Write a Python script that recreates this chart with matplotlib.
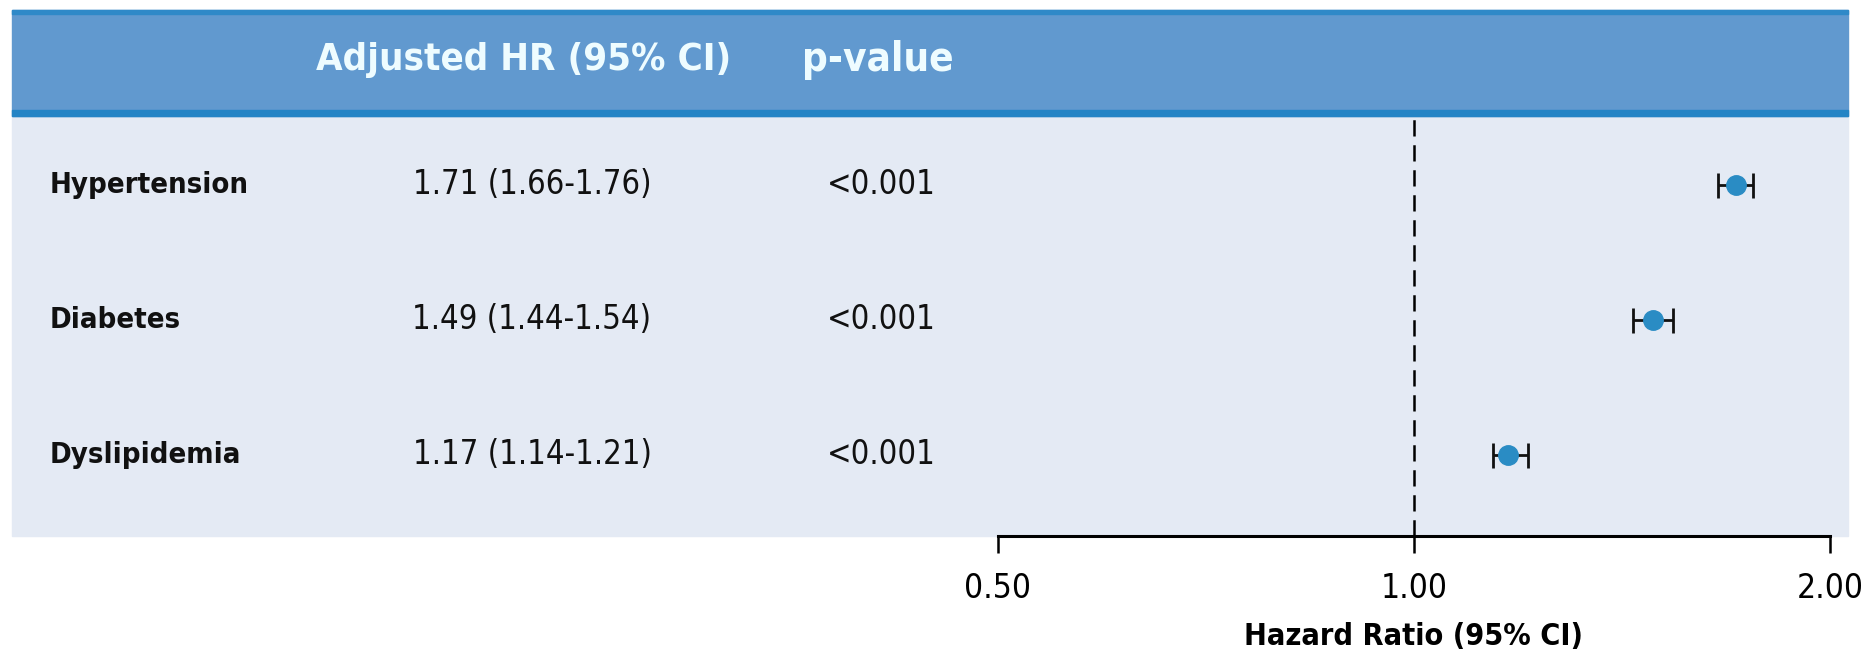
import matplotlib.pyplot as plt
from matplotlib.patches import Rectangle
from matplotlib.transforms import blended_transform_factory
import numpy as np

plt.rcParams['font.family'] = ['DejaVu Sans']
plt.rcParams['font.stretch'] = 'condensed'

# 数据
factors = ['Hypertension', 'Diabetes', 'Dyslipidemia']
hr = [1.71, 1.49, 1.17]
ci_low = [1.66, 1.44, 1.14]
ci_high = [1.76, 1.54, 1.21]
hr_text = ['1.71 (1.66-1.76)', '1.49 (1.44-1.54)', '1.17 (1.14-1.21)']
p_text = ['<0.001', '<0.001', '<0.001']
ticks = [0.5, 1.0, 2.0]
tick_labels = ['0.50', '1.00', '2.00']

W, H = 1875, 654
fig = plt.figure(figsize=(W / 100, H / 100), dpi=100)

def fx(x):
    return x / W

def fy(y):
    return 1 - y / H

# 背景
fig.patches.append(Rectangle((fx(12), fy(536)), fx(1848 - 12), (536 - 116) / H,
                             transform=fig.transFigure, color='#e4eaf4', zorder=0))
fig.patches.append(Rectangle((fx(12), fy(116)), fx(1848 - 12), (116 - 10) / H,
                             transform=fig.transFigure, color='#6199cf', zorder=0))
fig.patches.append(Rectangle((fx(12), fy(14)), fx(1848 - 12), 4 / H,
                             transform=fig.transFigure, color='#2f89c8', zorder=0))
fig.patches.append(Rectangle((fx(12), fy(116)), fx(1848 - 12), 6 / H,
                             transform=fig.transFigure, color='#2484c5', zorder=0))

# 表头
fig.text(fx(524), fy(60), 'Adjusted HR (95% CI)', ha='center', va='center',
         fontsize=27.5, fontweight='bold', color='#eefcff')
fig.text(fx(878), fy(60), 'p-value', ha='center', va='center',
         fontsize=29, fontweight='bold', color='#eefcff')

# 森林图
ax = fig.add_axes([fx(998), fy(536), fx(1830 - 998), (536 - 116) / H])
ax.set_zorder(2)
ax.set_facecolor('none')
ax.set_xscale('log')
ax.set_xlim(0.5, 2.0)
ax.set_ylim(0.4, 3.51)
ypos = np.array([3, 2, 1])

xerr = [np.array(hr) - np.array(ci_low), np.array(ci_high) - np.array(hr)]
ax.errorbar(hr, ypos, xerr=xerr, fmt='none', ecolor='#111111', elinewidth=2,
            capsize=9, capthick=2, zorder=3)
ax.plot(hr, ypos, 'o', color='#2a8cc4', markersize=14, zorder=4)
ax.axvline(1.0, color='black', lw=1.8, ls=(0, (6.5, 3.5)), zorder=2)

for s in ['top', 'right', 'left']:
    ax.spines[s].set_visible(False)
ax.spines['bottom'].set_linewidth(2.2)
ax.spines['bottom'].set_bounds(0.5, 2.0)
ax.set_yticks([])
ax.set_xticks(ticks)
ax.set_xticklabels(tick_labels)
ax.minorticks_off()
ax.tick_params(axis='x', direction='out', length=12, width=1.8, labelsize=24, pad=14)
ax.set_xlabel('Hazard Ratio (95% CI)', fontsize=22, fontweight='bold', labelpad=12)

# 左侧文字列
tr = blended_transform_factory(fig.transFigure, ax.transData)
for i in range(len(factors)):
    ax.text(fx(50), ypos[i], factors[i], transform=tr, ha='left', va='center',
            fontsize=21, fontweight='bold', color='#111111')
    ax.text(fx(532), ypos[i], hr_text[i], transform=tr, ha='center', va='center',
            fontsize=23.5, color='#111111')
    ax.text(fx(881), ypos[i], p_text[i], transform=tr, ha='center', va='center',
            fontsize=23.5, color='#111111')

plt.savefig('out.png', dpi=100)
